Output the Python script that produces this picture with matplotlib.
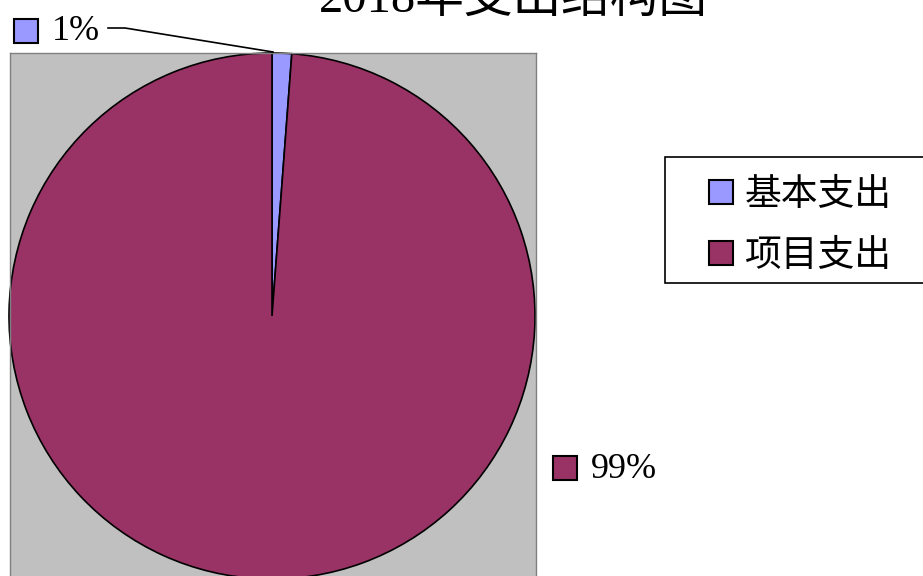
import matplotlib
matplotlib.use('Agg')
import matplotlib.pyplot as plt
from matplotlib.patches import Rectangle

title = '2018年支出结构图'
categories = ['基本支出', '项目支出']
shares = [1.2, 98.8]
colors = ['#9999FF', '#993366']

W, H = 923, 576
serif_cjk = ['Liberation Serif', 'Noto Sans CJK SC']


def fx(px):
    return px / W


def fy(py):
    # py is measured from the top of the picture
    return 1 - py / H


def key_box(x, y, size, color):
    fig.patches.append(Rectangle((fx(x), fy(y + size)), fx(size), size / H,
                                 transform=fig.transFigure, facecolor=color,
                                 edgecolor='black', linewidth=1.5))


fig = plt.figure(figsize=(W / 100, H / 100), dpi=100)

# plot area: x 10..536, top at 53, runs off the bottom
cx, cy, r = 272, 316, 263
left, right, top, bottom = 10, 536, 53, H + 6
ax = fig.add_axes([fx(left), fy(bottom), fx(right - left), (bottom - top) / H])

wedges, _ = ax.pie(shares, colors=colors, startangle=90, counterclock=False,
                   radius=1, wedgeprops=dict(edgecolor='black', linewidth=1.2))
ax.set_frame_on(True)
ax.set_facecolor('#C0C0C0')
for s in ax.spines.values():
    s.set_visible(True)
    s.set_color('#808080')
    s.set_linewidth(1)
ax.set_aspect('auto')
ax.set_xlim(-(cx - left) / r, (right - cx) / r)
ax.set_ylim(-(bottom - cy) / r, (cy - top) / r)
ax.set_xticks([])
ax.set_yticks([])

fig.text(fx(513), fy(12), title, ha='center', va='baseline',
         fontsize=35, family=serif_cjk)

# data labels with colour keys
labels = ['%.0f%%' % v for v in shares]
key_pos = [(14, 19), (553, 456)]
for (kx, ky), lab, c in zip(key_pos, labels, colors):
    key_box(kx, ky, 24, c)
    fig.text(fx(kx + 38), fy(ky + 13), lab, ha='left', va='center',
             fontsize=26, family=serif_cjk)

# leader line for the small slice
fig.lines.append(plt.Line2D([fx(108), fx(125), fx(273)], [fy(28), fy(28), fy(52)],
                            transform=fig.transFigure, color='black', linewidth=1.2))

# legend box
fig.patches.append(Rectangle((fx(665), fy(283)), fx(270), 126 / H,
                             transform=fig.transFigure, facecolor='white',
                             edgecolor='black', linewidth=1.2))
for i, (name, c) in enumerate(zip(categories, colors)):
    rowy = 192 + 61 * i
    key_box(709, rowy - 12, 24, c)
    fig.text(fx(745), fy(rowy + 4), name, ha='left', va='center',
             fontsize=26.5, family=serif_cjk)

fig.savefig('out.png', dpi=100)
